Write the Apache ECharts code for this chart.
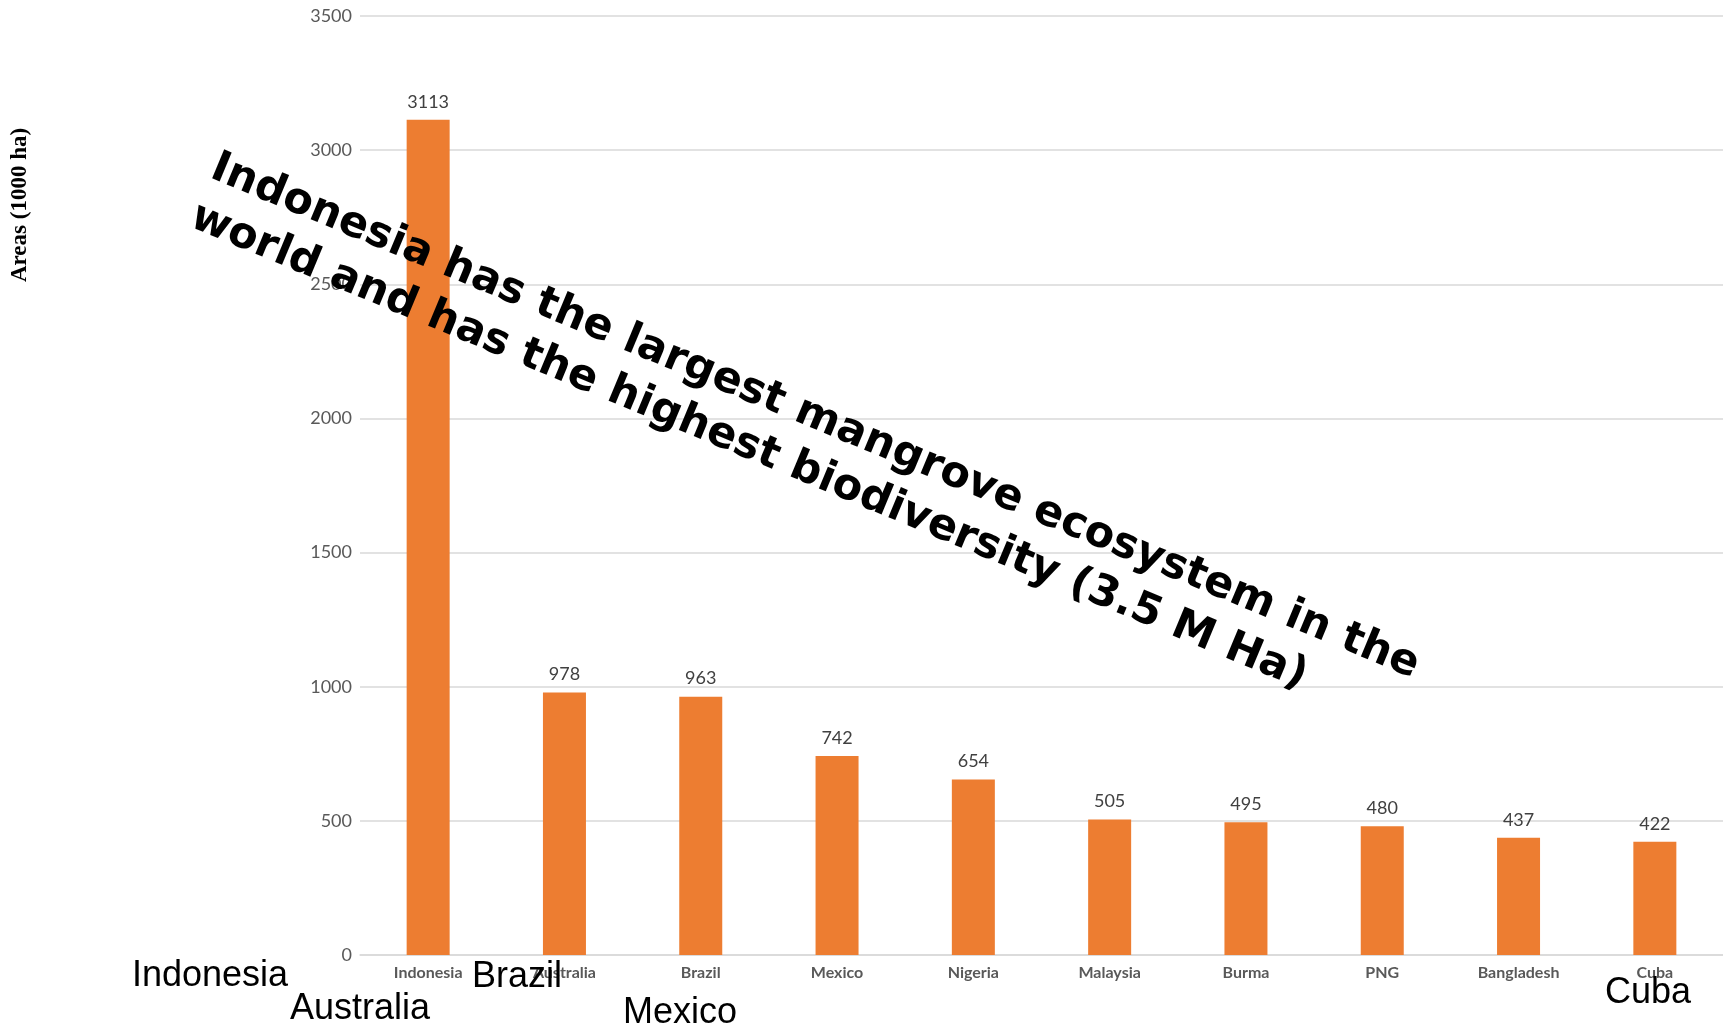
<!DOCTYPE html>
<html>
<head>
<meta charset="utf-8">
<script src="https://cdn.jsdelivr.net/npm/echarts@6/dist/echarts.min.js"></script>
<style>
html,body{margin:0;padding:0;background:#fff;}
#chart{width:1723px;height:1027px;}
</style>
</head>
<body>
<div id="chart"></div>
<script>
const categories = ['Indonesia','Australia','Brazil','Mexico','Nigeria','Malaysia','Burma','PNG','Bangladesh','Cuba'];
const areas = [3113, 978, 963, 742, 654, 505, 495, 480, 437, 422];
const yTicks = [0, 500, 1000, 1500, 2000, 2500, 3000, 3500];
const yAxisTitle = 'Areas (1000 ha)';
const headline = ['Indonesia has the largest mangrove ecosystem in the', 'world and has the highest biodiversity (3.5 M Ha)'];
const looseLabels = ['Indonesia', 'Australia', 'Brazil', 'Mexico', 'Cuba'];

const chart = echarts.init(document.getElementById('chart'), null, {renderer: 'canvas'});

const loosePos = [[210, 976], [360, 1009], [517, 977], [680, 1013], [1648, 993]];
const tiltDeg = 22.6;
const tilt = tiltDeg * Math.PI / 180;

const graphics = [
  {
    type: 'text', x: 20, y: 205, rotation: Math.PI / 2, z: 100,
    style: {text: yAxisTitle, font: 'bold 23px "Liberation Serif", serif', fill: '#000',
            textAlign: 'center', textVerticalAlign: 'middle'}
  },
  {
    type: 'text', x: 223, y: 142, rotation: -tilt, z: 100,
    style: {text: headline.join('\n'), font: 'bold 43px "DejaVu Sans", sans-serif', fill: '#000',
            textAlign: 'left', textVerticalAlign: 'top', lineHeight: 53}
  }
];
looseLabels.forEach((t, i) => {
  graphics.push({
    type: 'text', x: loosePos[i][0], y: loosePos[i][1], z: 100,
    style: {text: t, font: '36px "Liberation Sans", Arial, sans-serif', fill: '#000',
            textAlign: 'center', textVerticalAlign: 'middle'}
  });
});

chart.setOption({
  animation: false,
  backgroundColor: '#ffffff',
  grid: {left: 360, right: 0, top: 16, bottom: 72, containLabel: false},
  xAxis: {
    type: 'category',
    data: categories,
    boundaryGap: true,
    axisLine: {show: true, lineStyle: {color: '#d9d9d9', width: 1.5}},
    axisTick: {show: false},
    axisLabel: {
      interval: 0, margin: 10, color: '#595959',
      fontFamily: 'Lato, sans-serif', fontWeight: 'bold', fontSize: 16
    }
  },
  yAxis: {
    type: 'value',
    min: yTicks[0], max: yTicks[yTicks.length - 1], interval: yTicks[1] - yTicks[0],
    axisLine: {show: false},
    axisTick: {show: false},
    splitLine: {show: true, lineStyle: {color: '#d9d9d9', width: 1.5}},
    axisLabel: {margin: 8, color: '#595959', fontFamily: 'Lato, sans-serif', fontSize: 18,
                formatter: v => String(v)}
  },
  series: [{
    type: 'bar',
    data: areas,
    barWidth: 43,
    itemStyle: {color: '#ED7D31'},
    label: {show: true, position: 'top', distance: 9, color: '#404040',
            fontFamily: 'Lato, sans-serif', fontSize: 18}
  }],
  graphic: graphics
});
</script>
</body>
</html>
